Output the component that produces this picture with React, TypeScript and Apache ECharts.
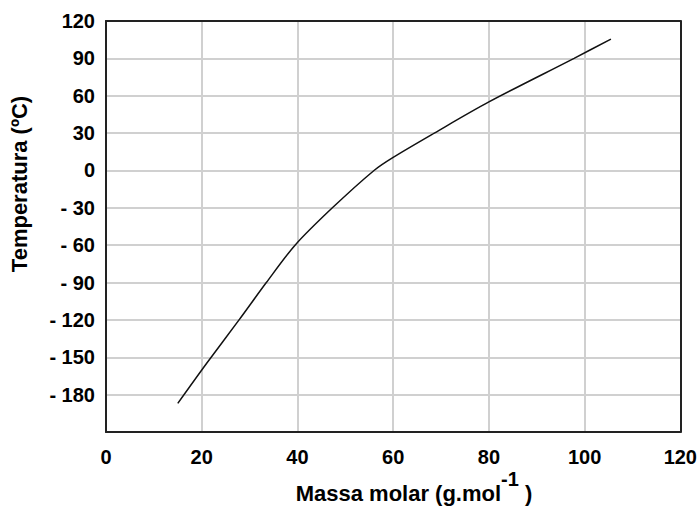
import React, { useEffect, useRef } from 'react';
import * as echarts from 'echarts';

const massMolar = [15, 21, 27.8, 33.5, 39.5, 47.3, 56, 60, 68.6, 80, 97.8, 105.5];
const temperature = [-187, -155, -120, -90, -60, -30, 0, 10.5, 30, 55, 90, 105.5];
const xTickValues = [0, 20, 40, 60, 80, 100, 120];
const xTickLabels = ['0', '20', '40', '60', '80', '100', '120'];
const yTickValues = [120, 90, 60, 30, 0, -30, -60, -90, -120, -150, -180];
const yTickLabels = ['120', '90', '60', '30', '0', '- 30', '- 60', '- 90', '- 120', '- 150', '- 180'];
const xTitle = 'Massa molar (g.mol';
const xTitleSup = '-1';
const yTitle = 'Temperatura (ºC)';

const FONT = '"Liberation Sans", Arial, sans-serif';

export default function App() {
  const ref = useRef<HTMLDivElement>(null);
  useEffect(() => {
    if (!ref.current) return;
    const chart = echarts.init(ref.current, undefined, { renderer: 'svg' });
    const data = massMolar.map((m, i) => [m, temperature[i]]);
    const frameAxis = {
      type: 'value',
      axisLine: { show: true, onZero: false, lineStyle: { color: '#222', width: 2 } },
      axisTick: { show: false },
      axisLabel: { show: false },
      splitLine: { show: false },
      z: 20,
    };
    chart.setOption({
      animation: false,
      backgroundColor: '#fff',
      grid: {
        left: 106,
        right: 19,
        top: 21,
        bottom: 81,
      },
      xAxis: [
        {
          type: 'value',
          min: 0,
          max: 120,
          interval: 20,
          position: 'bottom',
          axisLine: { show: true, onZero: false, lineStyle: { color: '#222', width: 2 } },
          axisTick: { show: false },
          splitLine: { show: true, lineStyle: { color: '#d0d0d0', width: 2 } },
          axisLabel: {
            margin: 15,
            color: '#000',
            fontFamily: FONT,
            fontWeight: 'bold',
            fontSize: 20,
            formatter: (v: number) => {
              const i = xTickValues.indexOf(v);
              return i >= 0 ? xTickLabels[i] : '';
            },
          },
        },
        { ...frameAxis, min: 0, max: 120, position: 'top' },
      ],
      yAxis: [
        {
          type: 'value',
          min: -210,
          max: 120,
          interval: 30,
          position: 'left',
          axisLine: { show: true, onZero: false, lineStyle: { color: '#222', width: 2 } },
          axisTick: { show: false },
          splitLine: { show: true, lineStyle: { color: '#d0d0d0', width: 2 } },
          axisLabel: {
            margin: 11,
            color: '#000',
            fontFamily: FONT,
            fontWeight: 'bold',
            fontSize: 20,
            formatter: (v: number) => {
              const i = yTickValues.indexOf(v);
              return i >= 0 ? yTickLabels[i] : '';
            },
          },
        },
        { ...frameAxis, min: -210, max: 120, position: 'right' },
      ],
      graphic: [
        {
          type: 'text',
          x: 19,
          y: 184,
          rotation: Math.PI / 2,
          style: {
            text: yTitle,
            fill: '#000',
            font: `bold 22px ${FONT}`,
            align: 'center',
            verticalAlign: 'middle',
          },
        },
        {
          type: 'text',
          x: 414,
          y: 493,
          style: {
            text: `${xTitle}{sup|${xTitleSup}} )`,
            fill: '#000',
            font: `bold 22px ${FONT}`,
            align: 'center',
            verticalAlign: 'middle',
            rich: {
              sup: {
                fontSize: 20,
                fontWeight: 'bold',
                fontFamily: FONT,
                fill: '#000',
                padding: [0, 0, 28, 0],
              },
            },
          },
        },
      ],
      series: [
        {
          type: 'line',
          xAxisIndex: 0,
          yAxisIndex: 0,
          data,
          smooth: 0.3,
          showSymbol: false,
          lineStyle: { color: '#111', width: 1.5 },
          z: 10,
        },
      ],
    });
    return () => chart.dispose();
  }, []);
  return <div ref={ref} style={{ width: 700, height: 513, position: 'absolute', left: 0, top: 0 }} />;
}
